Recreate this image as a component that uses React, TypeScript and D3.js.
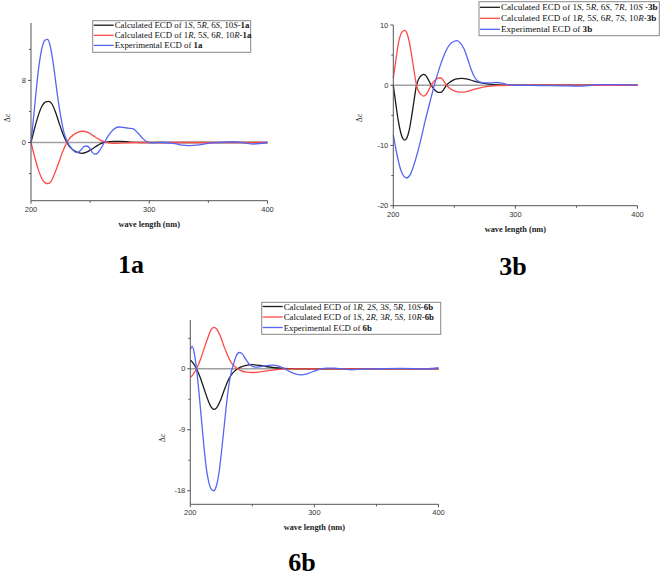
import React from 'react';
import * as d3 from 'd3';

type Pt = [number, number];

// ---------- data ----------
const waveMajor = [200, 300, 400];
const waveMinor = [250, 350];

const calc1aS: Pt[] = [[200,0],[203,1.8],[206,3.4],[209,4.6],[212,5.2],[215,5.3],[218,4.9],[221,3.8],[224,2.4],[227,1.1],[230,0.1],[233,-0.6],[236,-1.0],[240,-1.3],[243,-1.4],[247,-1.25],[251,-0.9],[255,-0.5],[259,-0.15],[263,0.05],[270,0.15],[276,0.15],[284,0.05],[292,0],[400,0]];
const calc1aR: Pt[] = [[200,0],[203,-1.8],[206,-3.4],[209,-4.6],[212,-5.2],[214,-5.3],[217,-5.0],[220,-4.0],[223,-2.8],[226,-1.5],[229,-0.4],[232,0.4],[236,1.0],[240,1.35],[244,1.45],[248,1.3],[252,0.95],[256,0.55],[260,0.2],[264,0],[270,-0.1],[278,-0.05],[290,0],[400,0]];
const exp1a: Pt[] = [[200,0],[203,4.5],[206,9],[209,12],[212,13.2],[214,13.3],[216,12.6],[219,10],[222,6.5],[225,3.5],[228,1.2],[231,0],[234,-0.7],[237,-1.2],[239,-1.3],[242,-1.0],[245,-0.5],[247,-0.45],[249,-0.6],[252,-1.3],[254,-1.5],[256,-1.4],[259,-0.8],[262,0],[266,1.0],[270,1.7],[274,2.0],[278,1.95],[282,1.85],[286,1.8],[290,1.3],[294,0.6],[298,0.1],[302,-0.05],[310,0],[320,-0.1],[328,-0.35],[334,-0.4],[342,-0.3],[350,-0.1],[360,0],[370,0.1],[380,-0.05],[388,-0.2],[395,-0.1],[400,0]];

const calc3bS: Pt[] = [[200,0],[202,-3],[204,-5.8],[206,-7.8],[208,-8.9],[209.5,-9.1],[211,-8.8],[213,-7.5],[215,-5.2],[217,-2.5],[219,0],[221,1.1],[223,1.6],[225,1.8],[227,1.5],[229,0.8],[231,0],[234,-0.8],[237,-1.2],[239,-1.2],[241,-0.8],[243.5,0],[247,0.6],[251,1.0],[256,1.15],[261,1.0],[266,0.7],[272,0.4],[278,0.2],[285,0.05],[295,0],[400,0]];
const calc3bR: Pt[] = [[200,1.2],[202,4],[204,6.8],[206,8.4],[208,9.0],[209.5,9.1],[211,8.7],[213,7.3],[215,5.0],[217,2.4],[219,0],[221,-1.1],[223,-1.6],[225,-1.8],[227,-1.5],[229,-0.8],[231,0],[234,0.8],[237,1.2],[239,1.2],[241,0.8],[243.5,0],[247,-0.6],[251,-1.0],[256,-1.15],[261,-1.0],[266,-0.7],[272,-0.4],[278,-0.2],[285,-0.05],[295,0],[400,0]];
const exp3b: Pt[] = [[200,-8.3],[203,-11.5],[206,-14],[209,-15.2],[211,-15.4],[214,-14.8],[218,-12.5],[222,-9.5],[226,-6],[230,-2.8],[234,0.3],[238,3],[242,5.2],[246,6.7],[250,7.3],[252,7.4],[255,7.0],[258,6.0],[261,4.3],[264,2.5],[267,1.2],[270,0.6],[274,0.4],[280,0.4],[285,0.45],[290,0.3],[295,0.05],[300,0],[320,-0.05],[340,-0.1],[350,-0.15],[360,-0.05],[368,0.1],[380,0.1],[390,0.05],[400,0.05]];

const calc6bS: Pt[] = [[200,1.3],[202,0.9],[205,0],[208,-1.3],[211,-2.9],[214,-4.5],[217,-5.7],[219,-6.0],[221,-5.8],[224,-4.8],[227,-3.3],[230,-1.9],[233,-0.9],[236,-0.3],[240,0.2],[245,0.5],[250,0.6],[256,0.5],[262,0.3],[268,0.15],[275,0.05],[285,0],[400,0]];
const calc6bR: Pt[] = [[200,-1.3],[202,-0.9],[205,0],[208,1.3],[211,2.9],[214,4.5],[217,5.8],[219,6.1],[221,5.9],[224,4.9],[227,3.4],[230,2.0],[233,0.9],[236,0.3],[240,-0.2],[245,-0.5],[250,-0.55],[256,-0.45],[262,-0.3],[268,-0.15],[275,-0.05],[285,0],[400,0]];
const exp6b: Pt[] = [[200,2.8],[201.5,3.3],[203,2.5],[205,0],[207,-3.5],[209,-7.5],[211,-11.5],[213,-14.8],[215,-16.8],[217,-17.8],[219,-18.0],[221,-17.3],[223,-15.5],[225,-12.5],[227,-9],[229,-5.5],[231,-2.5],[233,-0.5],[235,0.8],[237,1.9],[239.5,2.4],[242,2.2],[244,1.6],[247,0.8],[250,0.35],[254,0.25],[258,0.35],[263,0.5],[267,0.55],[271,0.4],[275,0.1],[279,-0.3],[284,-0.7],[289,-0.9],[294,-0.75],[299,-0.4],[304,-0.1],[310,0.1],[316,0.1],[322,0],[330,-0.15],[338,-0.05],[350,0],[370,0.05],[390,0],[400,0.15]];

const legend1a = ['Calculated ECD of 1<i>S</i>, 5<i>R</i>, 6<i>S</i>, 10<i>S</i>-<b>1a</b>', 'Calculated ECD of 1<i>R</i>, 5<i>S</i>, 6<i>R</i>, 10<i>R</i>-<b>1a</b>', 'Experimental ECD of <b>1a</b>'];
const legend3b = ['Calculated ECD of 1<i>S</i>, 5<i>R</i>, 6<i>S</i>, 7<i>R</i>, 10<i>S</i> -<b>3b</b>', 'Calculated ECD of 1<i>R</i>, 5<i>S</i>, 6<i>R</i>, 7<i>S</i>, 10<i>R</i>-<b>3b</b>', 'Experimental ECD of <b>3b</b>'];
const legend6b = ['Calculated ECD of 1<i>R</i>, 2<i>S</i>, 3<i>S</i>, 5<i>R</i>, 10<i>S</i>-<b>6b</b>', 'Calculated ECD of 1<i>S</i>, 2<i>R</i>, 3<i>R</i>, 5<i>S</i>, 10<i>R</i>-<b>6b</b>', 'Experimental ECD of <b>6b</b>'];

const yMajor1a = [0, 8];
const yMinor1a = [-4, 4, 12];
const yMajor3b = [-20, -10, 0, 10];
const yMinor3b = [-15, -5, 5];
const yMajor6b = [-18, -9, 0];
const yMinor6b = [-13.5, -4.5, 4.5];

// ---------- style ----------
const COLORS = ['#1c1c1c', '#ff4a4a', '#5566f2'];
const SERIF = '"Liberation Serif", "Times New Roman", serif';
const SANS = '"Liberation Sans", Arial, sans-serif';

type Panel = {
  left: number; right: number; top: number; bottom: number;
  yDomain: [number, number]; yMajor: number[]; yMinor: number[];
  series: Pt[][]; legend: string[];
  lx: number; ly: number; lw: number; lh: number; rows: number[]; lfont: number;
  label: string; labelX: number; labelY: number;
  deX: number; deY: number;
};

const panels: Panel[] = [
  { left: 31, right: 267.5, top: 23, bottom: 200.7, yDomain: [-7.5, 15.4], yMajor: yMajor1a, yMinor: yMinor1a,
    series: [calc1aS, calc1aR, exp1a], legend: legend1a,
    lx: 92.7, ly: 20.7, lw: 158, lh: 31.6, rows: [25.2, 35.3, 45.4], lfont: 8.8,
    label: '1a', labelX: 131, labelY: 273, deX: 10, deY: 118 },
  { left: 393.3, right: 637.5, top: 25, bottom: 205.7, yDomain: [-20, 10], yMajor: yMajor3b, yMinor: yMinor3b,
    series: [calc3bS, calc3bR, exp3b], legend: legend3b,
    lx: 479, ly: 1.7, lw: 180.3, lh: 34, rows: [7.3, 18.3, 29.3], lfont: 9.1,
    label: '3b', labelX: 513, labelY: 275, deX: 362, deY: 118 },
  { left: 190.3, right: 438.5, top: 320, bottom: 504.3, yDomain: [-20, 7.2], yMajor: yMajor6b, yMinor: yMinor6b,
    series: [calc6bS, calc6bR, exp6b], legend: legend6b,
    lx: 261.7, ly: 302.3, lw: 179, lh: 32, rows: [306.5, 317, 327.5], lfont: 8.8,
    label: '6b', labelX: 302, labelY: 571, deX: 165, deY: 438 },
];

function RichText({ text, x, y, size }: { text: string; x: number; y: number; size: number }) {
  const parts = text.split(/(<i>.*?<\/i>|<b>.*?<\/b>)/).filter((p) => p.length > 0);
  return (
    <text x={x} y={y} dy="0.35em" fontFamily={SERIF} fontSize={size} fill="#111">
      {parts.map((p, i) => {
        if (p.startsWith('<i>')) return <tspan key={i} fontStyle="italic">{p.slice(3, -4)}</tspan>;
        if (p.startsWith('<b>')) return <tspan key={i} fontWeight="bold">{p.slice(3, -4)}</tspan>;
        return <tspan key={i}>{p}</tspan>;
      })}
    </text>
  );
}

function PanelView({ p }: { p: Panel }) {
  const x = d3.scaleLinear().domain([200, 400]).range([p.left, p.right]);
  const y = d3.scaleLinear().domain(p.yDomain).range([p.bottom, p.top]);
  const line = d3.line<Pt>().x((d) => x(d[0])).y((d) => y(d[1])).curve(d3.curveMonotoneX);
  const axisColor = '#555';
  return (
    <g>
      <line x1={x(200)} x2={x(400)} y1={y(0)} y2={y(0)} stroke="#a0a0a0" strokeWidth={1.4} />
      {p.series.map((s, i) => (
        <path key={i} d={line(s) || ''} fill="none" stroke={COLORS[i]} strokeWidth={1.3} />
      ))}
      <line x1={p.left} x2={p.left} y1={p.top} y2={p.bottom} stroke={axisColor} strokeWidth={1} />
      <line x1={p.left} x2={p.right} y1={p.bottom} y2={p.bottom} stroke={axisColor} strokeWidth={1} />
      {p.yMajor.map((v) => (
        <g key={'ym' + v}>
          <line x1={p.left - 3} x2={p.left} y1={y(v)} y2={y(v)} stroke={axisColor} />
          <text x={p.left - 5} y={y(v)} dy="0.35em" textAnchor="end" fontFamily={SANS} fontSize={7.5} fill="#333">{v}</text>
        </g>
      ))}
      {p.yMinor.map((v) => (
        <line key={'yn' + v} x1={p.left - 2} x2={p.left} y1={y(v)} y2={y(v)} stroke={axisColor} />
      ))}
      {waveMajor.map((v) => (
        <g key={'xm' + v}>
          <line x1={x(v)} x2={x(v)} y1={p.bottom} y2={p.bottom + 3} stroke={axisColor} />
          <text x={x(v)} y={p.bottom + 11} textAnchor="middle" fontFamily={SANS} fontSize={7.5} fill="#333">{v}</text>
        </g>
      ))}
      {waveMinor.map((v) => (
        <line key={'xn' + v} x1={x(v)} x2={x(v)} y1={p.bottom} y2={p.bottom + 2} stroke={axisColor} />
      ))}
      <text x={(p.left + p.right) / 2} y={p.bottom + 26} textAnchor="middle" fontFamily={SERIF} fontWeight="bold" fontSize={8.3} fill="#222">wave length (nm)</text>
      <text transform={`translate(${p.deX},${p.deY}) rotate(-90)`} textAnchor="middle" fontFamily={SERIF} fontSize={8} fill="#333">Δε</text>
      <rect x={p.lx} y={p.ly} width={p.lw} height={p.lh} fill="#fff" stroke="#888" strokeWidth={1} />
      {p.legend.map((t, i) => (
        <g key={'lg' + i}>
          <line x1={p.lx + 1} x2={p.lx + 21} y1={p.rows[i]} y2={p.rows[i]} stroke={COLORS[i]} strokeWidth={1.3} />
          <RichText text={t} x={p.lx + 22} y={p.rows[i]} size={p.lfont} />
        </g>
      ))}
      <text x={p.labelX} y={p.labelY} textAnchor="middle" fontFamily={SERIF} fontWeight="bold" fontSize={26} fill="#000">{p.label}</text>
    </g>
  );
}

export default function App() {
  return (
    <svg width={661} height={578} style={{ position: 'absolute', left: 0, top: 0, background: '#fff' }}>
      <rect width={661} height={578} fill="#fff" />
      {panels.map((p, i) => <PanelView key={i} p={p} />)}
    </svg>
  );
}
